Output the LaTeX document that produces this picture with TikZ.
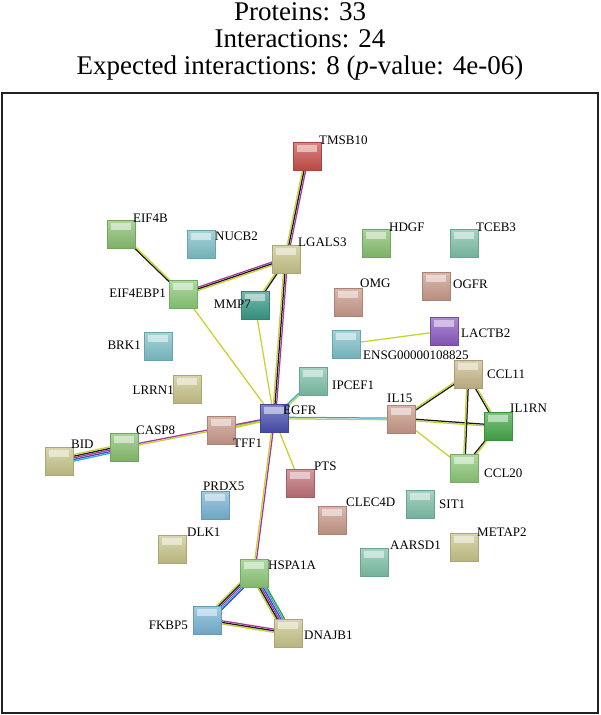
\documentclass[tikz,border=0pt]{standalone}
\usepackage{fontspec}
\setmainfont{Liberation Serif}
\usetikzlibrary{calc,backgrounds}
\definecolor{eY}{HTML}{C4D42B}
\definecolor{eK}{HTML}{1A1A1A}
\definecolor{eM}{HTML}{A8359F}
\definecolor{eC}{HTML}{2FA8D8}
\definecolor{eB}{HTML}{3B4BC8}
\definecolor{eG}{HTML}{3A9A3A}
% node colours
\definecolor{cRed}{HTML}{C8504B}
\definecolor{cGreen}{HTML}{88C070}
\definecolor{cLGreen}{HTML}{8CC878}
\definecolor{cDGreen}{HTML}{45A848}
\definecolor{cTeal}{HTML}{7EC0C8}
\definecolor{cDTeal}{HTML}{3A9A88}
\definecolor{cMint}{HTML}{7EC0A8}
\definecolor{cKhaki}{HTML}{C8C48A}
\definecolor{cTan}{HTML}{C8B88A}
\definecolor{cBrown}{HTML}{C89A8A}
\definecolor{cPurple}{HTML}{8A5AC0}
\definecolor{cBlue}{HTML}{4A50B0}
\definecolor{cRose}{HTML}{C07078}
\definecolor{cSky}{HTML}{78B4D4}
\definecolor{cFrame}{HTML}{222222}
\newcommand\pedge[3]{%
  \foreach \ecol [count=\ei] in {#3} {\xdef\edgeN{\ei}}%
  \foreach \ecol [count=\ei] in {#3} {%
    \pgfmathsetmacro\eoff{(\ei-(\edgeN+1)/2)*1.6}%
    \draw[draw=\ecol, line width=1.25pt] ($(#1)!\eoff pt!90:(#2)$) -- ($(#2)!\eoff pt!-90:(#1)$);
  }%
}
\tikzset{
  prot/.style={rectangle, minimum size=28pt, inner sep=0pt, draw=#1!85!black, line width=0.3pt,
    top color=#1!70!white, bottom color=#1!92!black,
    path picture={\fill[white, opacity=0.5] ([xshift=4pt,yshift=-3pt]path picture bounding box.north west) rectangle ([xshift=-4pt,yshift=-10pt]path picture bounding box.north east);}},
  lab/.style={inner sep=0pt, font=\fontsize{13}{15}\selectfont},
  ttl/.style={inner sep=0pt, anchor=base, font=\fontsize{27}{30}\selectfont}
}
\begin{document}
\begin{tikzpicture}[x=1pt,y=-1pt]
\useasboundingbox (0,0) rectangle (600,715);
\node[ttl] (t1) at (300,20) {Proteins: 33};
\node[ttl] (t2) at (300,47) {Interactions: 24};
\node[ttl] (t3) at (300,74) {Expected interactions: 8 (\textit{p}-value: 4e-06)};
\draw[cFrame, line width=2pt] (2,93) rectangle (598,713);

\node[prot=cRed] (TMSB10) at (307,156) {};
\node[lab, anchor=west] (lTMSB10) at (319,140) {TMSB10};
\node[prot=cGreen] (EIF4B) at (121,234) {};
\node[lab, anchor=west] (lEIF4B) at (133,218) {EIF4B};
\node[prot=cTeal] (NUCB2) at (201,244) {};
\node[lab, anchor=west] (lNUCB2) at (215,236) {NUCB2};
\node[prot=cKhaki] (LGALS3) at (286,259) {};
\node[lab, anchor=west] (lLGALS3) at (298,242) {LGALS3};
\node[prot=cLGreen] (EIF4EBP1) at (183,294) {};
\node[lab, anchor=east] (lEIF4EBP1) at (166,293) {EIF4EBP1};
\node[prot=cDTeal] (MMP7) at (255,305) {};
\node[lab, anchor=east] (lMMP7) at (251,304) {MMP7};
\node[prot=cGreen] (HDGF) at (376,243) {};
\node[lab, anchor=west] (lHDGF) at (389,227) {HDGF};
\node[prot=cMint] (TCEB3) at (464,243) {};
\node[lab, anchor=west] (lTCEB3) at (476,227) {TCEB3};
\node[prot=cBrown] (OMG) at (348,302) {};
\node[lab, anchor=west] (lOMG) at (360,283) {OMG};
\node[prot=cBrown] (OGFR) at (436,286) {};
\node[lab, anchor=west] (lOGFR) at (453,284) {OGFR};
\node[prot=cPurple] (LACTB2) at (444,331) {};
\node[lab, anchor=west] (lLACTB2) at (461,333) {LACTB2};
\node[prot=cTeal] (ENSG) at (346,344) {};
\node[lab, anchor=west] (lENSG) at (363,355) {ENSG00000108825};
\node[prot=cTan] (CCL11) at (468,374) {};
\node[lab, anchor=west] (lCCL11) at (487,374) {CCL11};
\node[prot=cMint] (IPCEF1) at (313,381) {};
\node[lab, anchor=west] (lIPCEF1) at (332,385) {IPCEF1};
\node[prot=cBrown] (IL15) at (401,419) {};
\node[lab, anchor=west] (lIL15) at (387,398) {IL15};
\node[prot=cDGreen] (IL1RN) at (498,426) {};
\node[lab, anchor=west] (lIL1RN) at (510,408) {IL1RN};
\node[prot=cLGreen] (CCL20) at (464,468) {};
\node[lab, anchor=west] (lCCL20) at (484,473) {CCL20};
\node[prot=cBlue] (EGFR) at (274,418) {};
\node[lab, anchor=west] (lEGFR) at (283,410) {EGFR};
\node[prot=cBrown] (TFF1) at (221,430) {};
\node[lab, anchor=west] (lTFF1) at (233,443) {TFF1};
\node[prot=cGreen] (CASP8) at (124,447) {};
\node[lab, anchor=west] (lCASP8) at (136,430) {CASP8};
\node[prot=cKhaki] (BID) at (59,461) {};
\node[lab, anchor=west] (lBID) at (71,444) {BID};
\node[prot=cKhaki] (LRRN1) at (187,389) {};
\node[lab, anchor=east] (lLRRN1) at (174,390) {LRRN1};
\node[prot=cTeal] (BRK1) at (158,346) {};
\node[lab, anchor=east] (lBRK1) at (141,345) {BRK1};
\node[prot=cRose] (PTS) at (300,483) {};
\node[lab, anchor=west] (lPTS) at (314,466) {PTS};
\node[prot=cSky] (PRDX5) at (215,505) {};
\node[lab, anchor=west] (lPRDX5) at (203,486) {PRDX5};
\node[prot=cBrown] (CLEC4D) at (332,520) {};
\node[lab, anchor=west] (lCLEC4D) at (346,502) {CLEC4D};
\node[prot=cMint] (SIT1) at (420,504) {};
\node[lab, anchor=west] (lSIT1) at (439,504) {SIT1};
\node[prot=cKhaki] (METAP2) at (464,547) {};
\node[lab, anchor=west] (lMETAP2) at (477,532) {METAP2};
\node[prot=cMint] (AARSD1) at (374,562) {};
\node[lab, anchor=west] (lAARSD1) at (390,545) {AARSD1};
\node[prot=cKhaki] (DLK1) at (172,549) {};
\node[lab, anchor=west] (lDLK1) at (187,532) {DLK1};
\node[prot=cLGreen] (HSPA1A) at (254,573) {};
\node[lab, anchor=west] (lHSPA1A) at (268,565) {HSPA1A};
\node[prot=cSky] (FKBP5) at (207,620) {};
\node[lab, anchor=east] (lFKBP5) at (188,625) {FKBP5};
\node[prot=cKhaki] (DNAJB1) at (288,633) {};
\node[lab, anchor=west] (lDNAJB1) at (304,635) {DNAJB1};

\begin{pgfonlayer}{background}
\fill[white] (0,0) rectangle (600,715);
\pedge{TMSB10}{LGALS3}{eY,eK,eM}
\pedge{EIF4B}{EIF4EBP1}{eK,eY}
\pedge{EIF4EBP1}{LGALS3}{eY,eK,eM}
\pedge{EIF4EBP1}{EGFR}{eY}
\pedge{LGALS3}{MMP7}{eY,eK}
\pedge{LGALS3}{EGFR}{eY,eK,eM}
\pedge{MMP7}{EGFR}{eY}
\pedge{ENSG}{LACTB2}{eY}
\pedge{EGFR}{IPCEF1}{eY,eC}
\pedge{EGFR}{IL15}{eY,eC}
\pedge{TFF1}{EGFR}{eY,eC}
\pedge{CASP8}{EGFR}{eY,eM}
\pedge{BID}{CASP8}{eC,eB,eM,eK,eY}
\pedge{EGFR}{HSPA1A}{eY,eM}
\pedge{EGFR}{PTS}{eY}
\pedge{HSPA1A}{FKBP5}{eY,eK,eM,eC,eB}
\pedge{HSPA1A}{DNAJB1}{eY,eK,eM,eB,eC,eG}
\pedge{FKBP5}{DNAJB1}{eY,eK,eM}
\pedge{IL15}{CCL11}{eK,eY}
\pedge{IL15}{IL1RN}{eY,eK}
\pedge{IL15}{CCL20}{eY}
\pedge{CCL11}{IL1RN}{eK,eY}
\pedge{CCL11}{CCL20}{eY,eK}
\pedge{IL1RN}{CCL20}{eK,eY}
\end{pgfonlayer}
\end{tikzpicture}
\end{document}
